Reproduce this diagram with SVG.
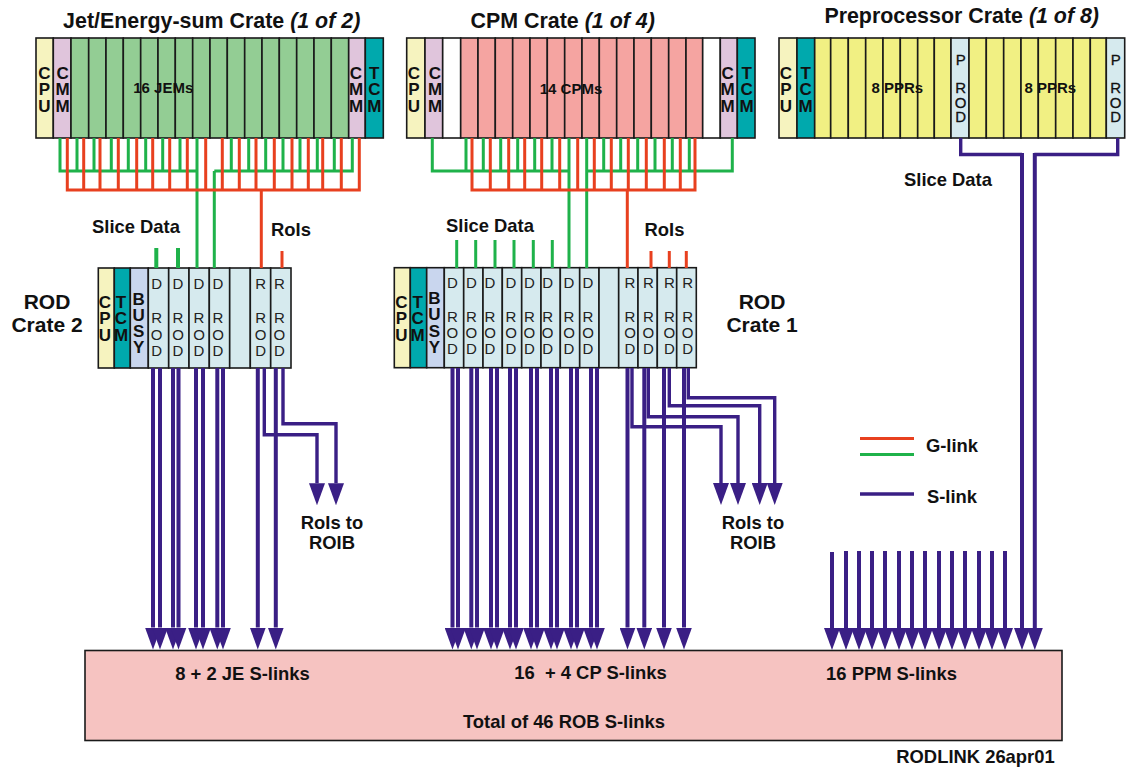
<svg xmlns="http://www.w3.org/2000/svg" width="1128" height="770" viewBox="0 0 1128 770">
<style>
text{font-family:"Liberation Sans",Arial,sans-serif;fill:#111;text-anchor:middle}
.t{font-weight:bold;font-size:21.4px}
.c{font-weight:bold;font-size:21px}
.l{font-weight:bold;font-size:18.4px}
.m{font-weight:bold;font-size:15px}
.s{font-weight:bold;font-size:17px}
.r{font-size:15px;fill:#222}
.p{font-size:15px;fill:#111;stroke:#111;stroke-width:.3}
rect{stroke:#1a1a1a;stroke-width:1.6}
.cpu{fill:#f6f3bf}.cmm{fill:#e0c5dc}.tcm{fill:#00a9ad}.jem{fill:#93cd94}.cpm{fill:#f5a4a1}.ppr{fill:#f1f083}.rod{fill:#d6eaee}.bsy{fill:#c9d6ee}.w{fill:#fff}
.g,.e,.v,.vt{fill:none;stroke-linejoin:miter}
.g{stroke:#1fb24a;stroke-width:3}
.e{stroke:#e8401f;stroke-width:3}
.v{stroke:#3a1f85;stroke-width:4}
.vt{stroke:#3a1f85;stroke-width:3.4}
.a{marker-end:url(#ah)}
</style>
<defs>
<marker id="ah" markerUnits="userSpaceOnUse" viewBox="0 -8 22 16" refX="0" refY="0" markerWidth="22" markerHeight="16" orient="auto"><path d="M0,-8L22,0L0,8z" fill="#3a1f85"/></marker>
</defs>

<g id="jem-crate">
<rect class="cpu" x="36" y="38" width="17.3" height="100"/><rect class="cmm" x="53.3" y="38" width="17.7" height="100"/>
<rect class="jem" x="71" y="38" width="17.7" height="100"/><rect class="jem" x="88.7" y="38" width="17.3" height="100"/><rect class="jem" x="106" y="38" width="17.3" height="100"/><rect class="jem" x="123.3" y="38" width="17.4" height="100"/><rect class="jem" x="140.7" y="38" width="17.3" height="100"/><rect class="jem" x="158" y="38" width="17.3" height="100"/><rect class="jem" x="175.3" y="38" width="17.4" height="100"/><rect class="jem" x="192.7" y="38" width="17.3" height="100"/><rect class="jem" x="210" y="38" width="17.3" height="100"/><rect class="jem" x="227.3" y="38" width="17.4" height="100"/><rect class="jem" x="244.7" y="38" width="17.3" height="100"/><rect class="jem" x="262" y="38" width="17.3" height="100"/><rect class="jem" x="279.3" y="38" width="17.4" height="100"/><rect class="jem" x="296.7" y="38" width="17.3" height="100"/><rect class="jem" x="314" y="38" width="17.3" height="100"/><rect class="jem" x="331.3" y="38" width="17.4" height="100"/>
<rect class="cmm" x="348.7" y="38" width="16.6" height="100"/><rect class="tcm" x="365.3" y="38" width="18" height="100"/>
<text class="t" x="211.7" y="27.5">Jet/Energy-sum Crate <tspan font-style="italic">(1 of 2)</tspan></text>
<text class="m" x="163.3" y="93">16 JEMs</text>
<text class="s" x="44.3" y="79">C</text><text class="s" x="44.3" y="95">P</text><text class="s" x="44.3" y="111.5">U</text>
<text class="s" x="62.7" y="79">C</text><text class="s" x="62.7" y="95">M</text><text class="s" x="62.7" y="111.5">M</text>
<text class="s" x="356" y="79">C</text><text class="s" x="356" y="95">M</text><text class="s" x="356" y="111.5">M</text>
<text class="s" x="374.3" y="79">T</text><text class="s" x="374.3" y="95">C</text><text class="s" x="374.3" y="111.5">M</text>
</g>

<g id="cpm-crate">
<rect class="cpu" x="406.7" y="38" width="18.3" height="100"/><rect class="cmm" x="425" y="38" width="17.7" height="100"/><rect class="w" x="442.7" y="38" width="18" height="100"/>
<rect class="cpm" x="460.7" y="38" width="17.3" height="100"/><rect class="cpm" x="478" y="38" width="17.3" height="100"/><rect class="cpm" x="495.3" y="38" width="17.4" height="100"/><rect class="cpm" x="512.7" y="38" width="17.3" height="100"/><rect class="cpm" x="530" y="38" width="17.3" height="100"/><rect class="cpm" x="547.3" y="38" width="17.4" height="100"/><rect class="cpm" x="564.7" y="38" width="17.3" height="100"/><rect class="cpm" x="582" y="38" width="17.3" height="100"/><rect class="cpm" x="599.3" y="38" width="17.4" height="100"/><rect class="cpm" x="616.7" y="38" width="17.3" height="100"/><rect class="cpm" x="634" y="38" width="17.3" height="100"/><rect class="cpm" x="651.3" y="38" width="17.4" height="100"/><rect class="cpm" x="668.7" y="38" width="17.3" height="100"/><rect class="cpm" x="686" y="38" width="16.7" height="100"/>
<rect class="w" x="702.7" y="38" width="17.6" height="100"/><rect class="cmm" x="720.3" y="38" width="17" height="100"/><rect class="tcm" x="737.3" y="38" width="17.7" height="100"/>
<text class="t" x="562.7" y="27.5">CPM Crate <tspan font-style="italic">(1 of 4)</tspan></text>
<text class="m" x="571" y="94">14 CPMs</text>
<text class="s" x="414" y="79">C</text><text class="s" x="414" y="95">P</text><text class="s" x="414" y="111.5">U</text>
<text class="s" x="435" y="79">C</text><text class="s" x="435" y="95">M</text><text class="s" x="435" y="111.5">M</text>
<text class="s" x="727.7" y="79">C</text><text class="s" x="727.7" y="95">M</text><text class="s" x="727.7" y="111.5">M</text>
<text class="s" x="746.7" y="79">T</text><text class="s" x="746.7" y="95">C</text><text class="s" x="746.7" y="111.5">M</text>
</g>

<g id="ppr-crate">
<rect class="cpu" x="779" y="38" width="18" height="100"/><rect class="tcm" x="797" y="38" width="17.7" height="100"/>
<rect class="ppr" x="814.7" y="38" width="16" height="100"/><rect class="ppr" x="830.7" y="38" width="17.6" height="100"/><rect class="ppr" x="848.3" y="38" width="17.4" height="100"/><rect class="ppr" x="865.7" y="38" width="17.3" height="100"/><rect class="ppr" x="883" y="38" width="17.3" height="100"/><rect class="ppr" x="900.3" y="38" width="17.4" height="100"/><rect class="ppr" x="917.7" y="38" width="16.6" height="100"/><rect class="ppr" x="934.3" y="38" width="16.7" height="100"/>
<rect class="rod" x="951" y="38" width="18" height="100"/>
<rect class="ppr" x="969" y="38" width="17.3" height="100"/><rect class="ppr" x="986.3" y="38" width="17.4" height="100"/><rect class="ppr" x="1003.7" y="38" width="17.3" height="100"/><rect class="ppr" x="1021" y="38" width="17.3" height="100"/><rect class="ppr" x="1038.3" y="38" width="17.4" height="100"/><rect class="ppr" x="1055.7" y="38" width="17.3" height="100"/><rect class="ppr" x="1073" y="38" width="17.3" height="100"/><rect class="ppr" x="1090.3" y="38" width="16" height="100"/>
<rect class="rod" x="1106.3" y="38" width="18.4" height="100"/>
<text class="t" x="961.7" y="23">Preprocessor Crate <tspan font-style="italic">(1 of 8)</tspan></text>
<text class="m" x="897.3" y="93">8 PPRs</text><text class="m" x="1050.3" y="93">8 PPRs</text>
<text class="s" x="786" y="79">C</text><text class="s" x="786" y="95">P</text><text class="s" x="786" y="111.5">U</text>
<text class="s" x="805.7" y="79">T</text><text class="s" x="805.7" y="95">C</text><text class="s" x="805.7" y="111.5">M</text>
<text class="p" x="960.7" y="65">P</text><text class="p" x="960.7" y="93">R</text><text class="p" x="960.7" y="107.5">O</text><text class="p" x="960.7" y="122">D</text>
<text class="p" x="1115.7" y="65">P</text><text class="p" x="1115.7" y="93">R</text><text class="p" x="1115.7" y="107.5">O</text><text class="p" x="1115.7" y="122">D</text>
</g>

<g id="rod-crate-2">
<rect class="cpu" x="98.3" y="268" width="16" height="100"/><rect class="tcm" x="114.3" y="268" width="16" height="100"/><rect class="bsy" x="130.3" y="268" width="18" height="100"/>
<rect class="rod" x="148.3" y="268" width="20.4" height="100"/><rect class="rod" x="168.7" y="268" width="20.3" height="100"/><rect class="rod" x="189" y="268" width="20.3" height="100"/><rect class="rod" x="209.3" y="268" width="20.4" height="100"/><rect class="rod" x="229.7" y="268" width="20.6" height="100"/><rect class="rod" x="250.3" y="268" width="20.4" height="100"/><rect class="rod" x="270.7" y="268" width="20.3" height="100"/>
<text class="s" x="105" y="308.3">C</text><text class="s" x="105" y="324">P</text><text class="s" x="105" y="340.7">U</text>
<text class="s" x="121" y="308.3">T</text><text class="s" x="121" y="324">C</text><text class="s" x="121" y="340.7">M</text>
<text class="s" x="138.7" y="305">B</text><text class="s" x="138.7" y="321">U</text><text class="s" x="138.7" y="337">S</text><text class="s" x="138.7" y="353.3">Y</text>
<text class="r" x="156.7" y="289">D</text><text class="r" x="156.7" y="323.3">R</text><text class="r" x="156.7" y="340">O</text><text class="r" x="156.7" y="356.3">D</text>
<text class="r" x="178" y="289">D</text><text class="r" x="178" y="323.3">R</text><text class="r" x="178" y="340">O</text><text class="r" x="178" y="356.3">D</text>
<text class="r" x="199" y="289">D</text><text class="r" x="199" y="323.3">R</text><text class="r" x="199" y="340">O</text><text class="r" x="199" y="356.3">D</text>
<text class="r" x="218" y="289">D</text><text class="r" x="218" y="323.3">R</text><text class="r" x="218" y="340">O</text><text class="r" x="218" y="356.3">D</text>
<text class="r" x="260.7" y="289">R</text><text class="r" x="260.7" y="323.3">R</text><text class="r" x="260.7" y="340">O</text><text class="r" x="260.7" y="356.3">D</text>
<text class="r" x="279.3" y="289">R</text><text class="r" x="279.3" y="323.3">R</text><text class="r" x="279.3" y="340">O</text><text class="r" x="279.3" y="356.3">D</text>
<text class="c" x="47" y="309">ROD</text><text class="c" x="47" y="332">Crate 2</text>
</g>

<g id="rod-crate-1">
<rect class="cpu" x="394.3" y="267.7" width="16" height="100"/><rect class="tcm" x="410.3" y="267.7" width="16.4" height="100"/><rect class="bsy" x="426.7" y="267.7" width="17.6" height="100"/>
<rect class="rod" x="444.3" y="267.7" width="19.4" height="100"/><rect class="rod" x="463.7" y="267.7" width="19.3" height="100"/><rect class="rod" x="483" y="267.7" width="19.3" height="100"/><rect class="rod" x="502.3" y="267.7" width="19.4" height="100"/><rect class="rod" x="521.7" y="267.7" width="19.3" height="100"/><rect class="rod" x="541" y="267.7" width="19.3" height="100"/><rect class="rod" x="560.3" y="267.7" width="19.4" height="100"/><rect class="rod" x="579.7" y="267.7" width="19.3" height="100"/><rect class="rod" x="599" y="267.7" width="19.7" height="100"/><rect class="rod" x="618.7" y="267.7" width="19.3" height="100"/><rect class="rod" x="638" y="267.7" width="19.3" height="100"/><rect class="rod" x="657.3" y="267.7" width="19.4" height="100"/><rect class="rod" x="676.7" y="267.7" width="19.6" height="100"/>
<text class="s" x="401.3" y="307.7">C</text><text class="s" x="401.3" y="324.3">P</text><text class="s" x="401.3" y="341">U</text>
<text class="s" x="417.7" y="307.7">T</text><text class="s" x="417.7" y="324.3">C</text><text class="s" x="417.7" y="341">M</text>
<text class="s" x="434.3" y="304.3">B</text><text class="s" x="434.3" y="320.3">U</text><text class="s" x="434.3" y="337">S</text><text class="s" x="434.3" y="353.3">Y</text>
<text class="r" x="452.3" y="287.7">D</text><text class="r" x="452.3" y="322">R</text><text class="r" x="452.3" y="337.7">O</text><text class="r" x="452.3" y="354.3">D</text>
<text class="r" x="471.3" y="287.7">D</text><text class="r" x="471.3" y="322">R</text><text class="r" x="471.3" y="337.7">O</text><text class="r" x="471.3" y="354.3">D</text>
<text class="r" x="490" y="287.7">D</text><text class="r" x="490" y="322">R</text><text class="r" x="490" y="337.7">O</text><text class="r" x="490" y="354.3">D</text>
<text class="r" x="511" y="287.7">D</text><text class="r" x="511" y="322">R</text><text class="r" x="511" y="337.7">O</text><text class="r" x="511" y="354.3">D</text>
<text class="r" x="529.3" y="287.7">D</text><text class="r" x="529.3" y="322">R</text><text class="r" x="529.3" y="337.7">O</text><text class="r" x="529.3" y="354.3">D</text>
<text class="r" x="547.7" y="287.7">D</text><text class="r" x="547.7" y="322">R</text><text class="r" x="547.7" y="337.7">O</text><text class="r" x="547.7" y="354.3">D</text>
<text class="r" x="569" y="287.7">D</text><text class="r" x="569" y="322">R</text><text class="r" x="569" y="337.7">O</text><text class="r" x="569" y="354.3">D</text>
<text class="r" x="588" y="287.7">D</text><text class="r" x="588" y="322">R</text><text class="r" x="588" y="337.7">O</text><text class="r" x="588" y="354.3">D</text>
<text class="r" x="630" y="287.7">R</text><text class="r" x="630" y="322">R</text><text class="r" x="630" y="337.7">O</text><text class="r" x="630" y="354.3">D</text>
<text class="r" x="648.3" y="287.7">R</text><text class="r" x="648.3" y="322">R</text><text class="r" x="648.3" y="337.7">O</text><text class="r" x="648.3" y="354.3">D</text>
<text class="r" x="669.3" y="287.7">R</text><text class="r" x="669.3" y="322">R</text><text class="r" x="669.3" y="337.7">O</text><text class="r" x="669.3" y="354.3">D</text>
<text class="r" x="687.7" y="287.7">R</text><text class="r" x="687.7" y="322">R</text><text class="r" x="687.7" y="337.7">O</text><text class="r" x="687.7" y="354.3">D</text>
<text class="c" x="762" y="309">ROD</text><text class="c" x="762" y="332">Crate 1</text>
</g>

<g id="rob">
<rect x="85" y="650.5" width="977" height="90" fill="#f6c3c1"/>
<text class="l" x="242.500" y="680">8 + 2 JE S-links</text>
<text class="l" x="590.5" y="679" xml:space="preserve">16  + 4 CP S-links</text>
<text class="l" x="891.500" y="680">16 PPM S-links</text>
<text class="l" x="564" y="727.5">Total of 46 ROB S-links</text>
</g>

<g id="connectors">
<path class="g" d="M60,138V171H198M77,138V171M94,138V171M111.3,138V171M128.3,138V171M145.7,138V171M162.7,138V171M180,138V171M197,138V268M214.3,171V268M214.3,171H352.3V138M231.3,138V171M248.7,138V171M265.7,138V171M283,138V171M300,138V171M317.3,138V171M334.3,138V171"/>
<path class="e" d="M67.3,138V190H359.3V138M83.7,138V190M100,138V190M118.3,138V190M136.7,138V190M152.7,138V190M169.7,138V190M187.3,138V190M205.7,138V190M222.3,138V190M239.3,138V190M256,138V190M274.3,138V190M292,138V190M308.3,138V190M322.7,138V190M341.3,138V190M261.3,190V268"/>
<path class="g" d="M432.3,138V171H569M466,138V171M483.3,138V171M500.7,138V171M517.7,138V171M534.7,138V171M552,138V171M569,138V268M586.7,138V268M586.7,171H732.3V138M603.7,138V171M620.7,138V171M637.7,138V171M655,138V171M672.3,138V171M689.3,138V171"/>
<path class="e" d="M472,138V190H695V138M490.3,138V190M508.7,138V190M524.7,138V190M541.7,138V190M559.7,138V190M577.7,138V190M594.3,138V190M611.3,138V190M628.3,138V190M646.3,138V190M664.3,138V190M680.3,138V190M627.3,190V268"/>
<path class="g" d="M156.3,248V268M178,248V268" style="stroke-width:4"/>
<path class="e" d="M282,251V268"/>
<path class="g" d="M456.7,240V268M475.7,240V268M495,240V268M514,240V268M533.3,240V268M552.3,240V268"/>
<path class="e" d="M651,251V268M669.3,251V268M686.3,251V268"/>
<path class="vt" d="M960.7,138V154.5H1022M1117.7,138V154.5H1034.3"/>
<path class="v a" d="M1022,153V628"/><path class="v a" d="M1034.8,153V628"/>
<path class="v a" d="M153,368V627.5"/><path class="v a" d="M160,368V627.5"/><path class="v a" d="M173,368V627.5"/><path class="v a" d="M178.5,368V627.5"/><path class="v a" d="M196,368V627.5"/><path class="v a" d="M203,368V627.5"/><path class="v a" d="M217.3,368V627.5"/><path class="v a" d="M223,368V627.5"/><path class="v a" d="M257.8,368V627.5"/><path class="v a" d="M275.8,368V627.5"/>
<path class="vt a" d="M264.3,368V434.7H317V483.3"/><path class="vt a" d="M283,368V423.7H336V483.3"/>
<path class="v a" d="M452.5,368V627.5"/><path class="v a" d="M458,368V627.5"/><path class="v a" d="M471.3,368V627.5"/><path class="v a" d="M477,368V627.5"/><path class="v a" d="M491,368V627.5"/><path class="v a" d="M497,368V627.5"/><path class="v a" d="M510,368V627.5"/><path class="v a" d="M516,368V627.5"/><path class="v a" d="M531,368V627.5"/><path class="v a" d="M537,368V627.5"/><path class="v a" d="M551,368V627.5"/><path class="v a" d="M557,368V627.5"/><path class="v a" d="M571,368V627.5"/><path class="v a" d="M577,368V627.5"/><path class="v a" d="M591,368V627.5"/><path class="v a" d="M597,368V627.5"/><path class="v a" d="M627.5,368V627.5"/><path class="v a" d="M644.3,368V627.5"/><path class="v a" d="M664,368V627.5"/><path class="v a" d="M684,368V627.5"/>
<path class="vt a" d="M632,368V426.7H721V483"/><path class="vt a" d="M648.3,368V416.7H738V483"/><path class="vt a" d="M669.3,368V405.7H759.7V483"/><path class="vt a" d="M688.3,368V397.7H774.7V483"/>
<path class="v a" d="M832,552V628"/><path class="v a" d="M846,551V628"/><path class="v a" d="M859,551V628"/><path class="v a" d="M872,551V628"/><path class="v a" d="M885,551V628"/><path class="v a" d="M899,551V628"/><path class="v a" d="M912,551V628"/><path class="v a" d="M925,551V628"/><path class="v a" d="M939,551V628"/><path class="v a" d="M952,551V628"/><path class="v a" d="M965,551V628"/><path class="v a" d="M979,551V628"/><path class="v a" d="M992,551V628"/><path class="v a" d="M1005,551V628"/>
</g>

<g id="labels">
<text class="l" x="136" y="233">Slice Data</text>
<text class="l" x="490" y="231.500">Slice Data</text>
<text class="l" x="948" y="185.500">Slice Data</text>
<text class="l" x="291" y="236">RoIs</text>
<text class="l" x="664.500" y="236">RoIs</text>
<text class="l" x="332" y="529">RoIs to</text><text class="l" x="332" y="549">ROIB</text>
<text class="l" x="753" y="529">RoIs to</text><text class="l" x="753" y="549">ROIB</text>
<text class="l" x="975.500" y="763">RODLINK 26apr01</text>
</g>

<g id="legend">
<path class="e" d="M860,438.500H914"/>
<path class="g" d="M860,454.500H914"/>
<path class="vt" d="M860,494H914"/>
<text class="l" x="952" y="452">G-link</text>
<text class="l" x="952" y="503">S-link</text>
</g>
</svg>
